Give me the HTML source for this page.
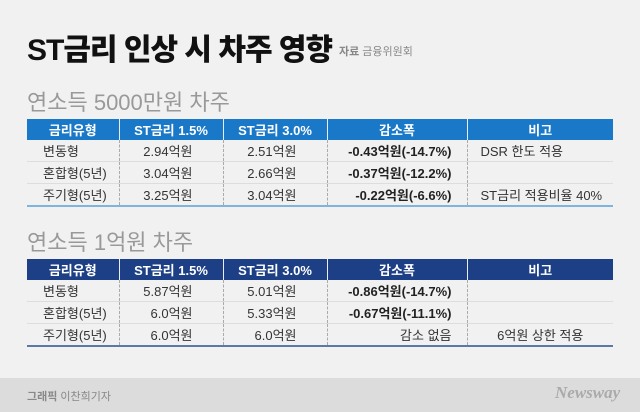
<!DOCTYPE html>
<html><head><meta charset="utf-8"><style>
body{margin:0;width:640px;height:412px;overflow:hidden;background:#f1f1f1;font-family:"Liberation Sans","Noto Sans CJK KR",sans-serif;position:relative}
.t{position:absolute;white-space:nowrap}
table{position:absolute;left:27px;width:586px;border-collapse:collapse;table-layout:fixed;font-size:13px;color:#333}
th{color:#fff;font-weight:bold;height:21px;padding:0;font-size:13px;border-left:1px solid #e8eef6}
th:first-child{border-left:none}
td{height:21px;padding:0;border-left:1px dashed #aaa;border-top:1px solid #ddd}
td:first-child{border-left:none;padding-left:16px}
.r{text-align:right}
.b{font-weight:bold;color:#222}
</style></head><body>
<div class="t" style="left:27px;top:25px;font-size:30px;font-weight:900;color:#111;letter-spacing:-1px">ST금리 인상 시 차주 영향</div>
<div class="t" style="left:339px;top:43px;font-size:11px;color:#888"><b>자료</b> 금융위원회</div>
<div class="t" style="left:27px;top:85px;font-size:22px;color:#999">연소득 5000만원 차주</div>
<table style="top:119px;border-bottom:2px solid #7fb3e0">
<colgroup><col style="width:92px"><col style="width:104px"><col style="width:104px"><col style="width:140px"><col style="width:146px"></colgroup>
<tr style="background:#1a78c8"><th>금리유형</th><th>ST금리 1.5%</th><th>ST금리 3.0%</th><th>감소폭</th><th>비고</th></tr>
<tr><td style="border-top:none">변동형</td><td class="r" style="padding-right:30px;border-top:none">2.94억원</td><td class="r" style="padding-right:30px;border-top:none">2.51억원</td><td class="r b" style="padding-right:15px;border-top:none">-0.43억원(-14.7%)</td><td style="padding-left:13px;border-top:none">DSR 한도 적용</td></tr>
<tr><td>혼합형(5년)</td><td class="r" style="padding-right:30px">3.04억원</td><td class="r" style="padding-right:30px">2.66억원</td><td class="r b" style="padding-right:15px">-0.37억원(-12.2%)</td><td></td></tr>
<tr><td>주기형(5년)</td><td class="r" style="padding-right:30px">3.25억원</td><td class="r" style="padding-right:30px">3.04억원</td><td class="r b" style="padding-right:15px">-0.22억원(-6.6%)</td><td style="padding-left:13px">ST금리 적용비율 40%</td></tr>
</table>
<div class="t" style="left:27px;top:225px;font-size:22px;color:#999">연소득 1억원 차주</div>
<table style="top:259px;border-bottom:2px solid #5a78a8">
<colgroup><col style="width:92px"><col style="width:104px"><col style="width:104px"><col style="width:140px"><col style="width:146px"></colgroup>
<tr style="background:#1d3f85"><th>금리유형</th><th>ST금리 1.5%</th><th>ST금리 3.0%</th><th>감소폭</th><th>비고</th></tr>
<tr><td style="border-top:none">변동형</td><td class="r" style="padding-right:30px;border-top:none">5.87억원</td><td class="r" style="padding-right:30px;border-top:none">5.01억원</td><td class="r b" style="padding-right:15px;border-top:none">-0.86억원(-14.7%)</td><td style="border-top:none"></td></tr>
<tr><td>혼합형(5년)</td><td class="r" style="padding-right:30px">6.0억원</td><td class="r" style="padding-right:30px">5.33억원</td><td class="r b" style="padding-right:15px">-0.67억원(-11.1%)</td><td></td></tr>
<tr><td>주기형(5년)</td><td class="r" style="padding-right:30px">6.0억원</td><td class="r" style="padding-right:30px">6.0억원</td><td class="r" style="padding-right:15px">감소 없음</td><td style="text-align:center">6억원 상한 적용</td></tr>
</table>
<div style="position:absolute;left:0;top:378px;width:640px;height:34px;background:#dcdcdc"></div>
<div class="t" style="left:27px;top:388px;font-size:11px;color:#888"><b>그래픽</b> 이찬희기자</div>
<div class="t" style="left:555px;top:383px;font-size:17px;font-style:italic;font-weight:bold;color:#aaa;font-family:'Liberation Serif',serif">Newsway</div>
</body></html>
